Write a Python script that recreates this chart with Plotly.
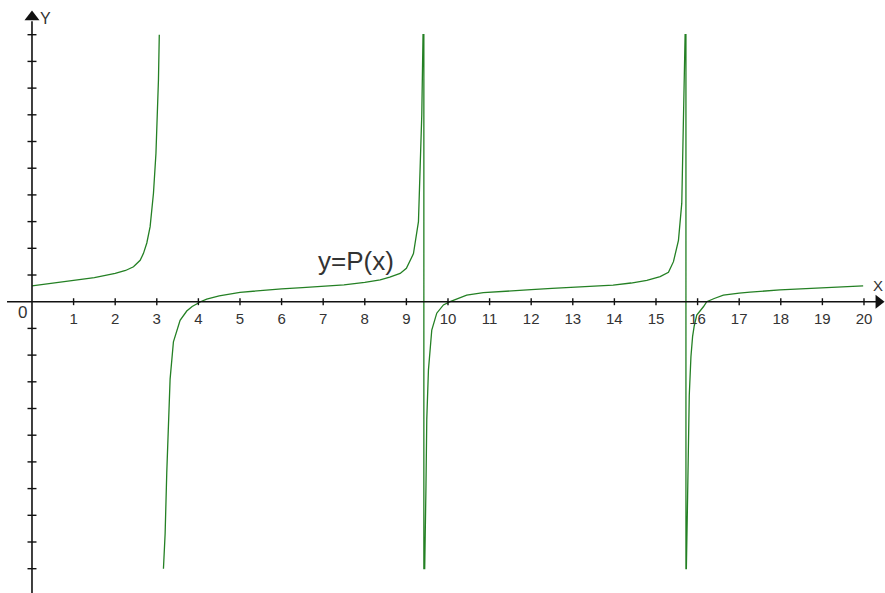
import plotly.graph_objects as go

# Branch of y = P(x) on [0, pi)
branch1_x = [0.0, 0.5, 1.0, 1.5, 2.0, 2.25, 2.44, 2.6, 2.68, 2.76, 2.84, 2.92, 2.98, 3.02, 3.04, 3.06]
branch1_y = [0.59, 0.69, 0.79, 0.9, 1.06, 1.17, 1.31, 1.55, 1.81, 2.2, 2.81, 4.06, 5.56, 7.0, 8.3, 10.0]

# Branch on (pi, 3pi) continuing through the jump at 3pi and on to 5pi and beyond
branch2_x = [3.16, 3.2, 3.24, 3.28, 3.32, 3.4, 3.48, 3.56, 3.72, 3.85, 4.0, 4.05, 4.2, 4.5, 5.0, 5.5,
             6.0, 6.5, 7.0, 7.5, 8.0, 8.37, 8.6, 8.85, 9.0, 9.17, 9.29, 9.33, 9.37, 9.40, 9.42,
             9.42, 9.44, 9.47, 9.49, 9.53, 9.61, 9.73, 9.89, 10.05, 10.45, 10.85, 11.25, 12.0, 12.5,
             13.17, 13.97, 14.4, 14.78, 15.1, 15.3, 15.42, 15.54, 15.62, 15.66, 15.70, 15.72,
             15.72, 15.73, 15.76, 15.8, 15.84, 15.88, 15.92, 15.98, 16.14, 16.22, 16.4, 16.62, 17.0,
             17.26, 17.98, 18.78, 19.4, 19.98]
branch2_y = [-10.0, -8.7, -6.4, -4.4, -2.9, -1.5, -1.1, -0.7, -0.35, -0.18, -0.05, 0.0, 0.1, 0.22,
             0.35, 0.42, 0.48, 0.53, 0.57, 0.63, 0.72, 0.82, 0.92, 1.06, 1.25, 1.8, 3.0, 4.8, 7.0,
             10.0, 10.0,
             -10.0, -10.0, -7.0, -4.4, -2.56, -1.06, -0.43, -0.12, 0.0, 0.25, 0.34, 0.37, 0.45, 0.5,
             0.55, 0.62, 0.7, 0.8, 0.94, 1.1, 1.5, 2.3, 3.69, 7.2, 10.0, 10.0,
             -10.0, -10.0, -7.3, -3.5, -2.06, -1.3, -0.9, -0.5, -0.19, 0.0, 0.12, 0.25, 0.32,
             0.36, 0.44, 0.5, 0.55, 0.59]

# Axis ticks
x_ticks = list(range(1, 21))
x_tick_labels = [str(v) for v in x_ticks]
y_ticks = [v for v in range(-10, 11) if v != 0]

X_MIN, X_MAX = -0.769, 20.505
Y_MIN, Y_MAX = -10.91, 11.3
AXIS_COLOR = "#111111"
CURVE_COLOR = "#248024"
TEXT_COLOR = "#333333"

fig = go.Figure()

# Coordinate axes
fig.add_shape(type="line", x0=-0.6, x1=20.3, y0=0, y1=0, line=dict(color=AXIS_COLOR, width=1.6))
fig.add_shape(type="line", x0=0, x1=0, y0=Y_MIN, y1=10.5, line=dict(color=AXIS_COLOR, width=1.6))

# Tick marks
for t in x_ticks:
    fig.add_shape(type="line", x0=t, x1=t, y0=-0.13, y1=0.13, line=dict(color=AXIS_COLOR, width=1.4))
for t in y_ticks:
    fig.add_shape(type="line", x0=-0.108, x1=0.108, y0=t, y1=t, line=dict(color=AXIS_COLOR, width=1.4))

# Arrow heads
fig.add_trace(go.Scatter(x=[20.35], y=[0], mode="markers", hoverinfo="skip",
                         marker=dict(symbol="triangle-right", size=12, color=AXIS_COLOR)))
fig.add_trace(go.Scatter(x=[0], y=[10.66], mode="markers", hoverinfo="skip",
                         marker=dict(symbol="triangle-up", size=13, color=AXIS_COLOR)))

# The curve
fig.add_trace(go.Scatter(x=branch1_x, y=branch1_y, mode="lines",
                         line=dict(color=CURVE_COLOR, width=1.3)))
fig.add_trace(go.Scatter(x=branch2_x, y=branch2_y, mode="lines",
                         line=dict(color=CURVE_COLOR, width=1.3)))

# Tick labels
fig.add_trace(go.Scatter(x=x_ticks, y=[-0.69] * len(x_ticks), mode="text", text=x_tick_labels,
                         textfont=dict(family="Liberation Sans, Arial", size=15, color=TEXT_COLOR),
                         hoverinfo="skip"))

annotations = [
    dict(x=-0.22, y=-0.42, text="0", size=17),
    dict(x=0.33, y=10.6, text="Y", size=16),
    dict(x=20.33, y=0.62, text="X", size=15),
    dict(x=7.8, y=1.52, text="y=P(x)", size=26),
]
for a in annotations:
    fig.add_annotation(x=a["x"], y=a["y"], text=a["text"], showarrow=False,
                       xanchor="center", yanchor="middle",
                       font=dict(family="Liberation Sans, Arial", size=a["size"], color=TEXT_COLOR))

fig.update_layout(
    width=885, height=593,
    margin=dict(l=0, r=0, t=0, b=0),
    paper_bgcolor="white", plot_bgcolor="white",
    showlegend=False,
    xaxis=dict(range=[X_MIN, X_MAX], visible=False, fixedrange=True),
    yaxis=dict(range=[Y_MIN, Y_MAX], visible=False, fixedrange=True),
)

fig.write_html("out.html")
